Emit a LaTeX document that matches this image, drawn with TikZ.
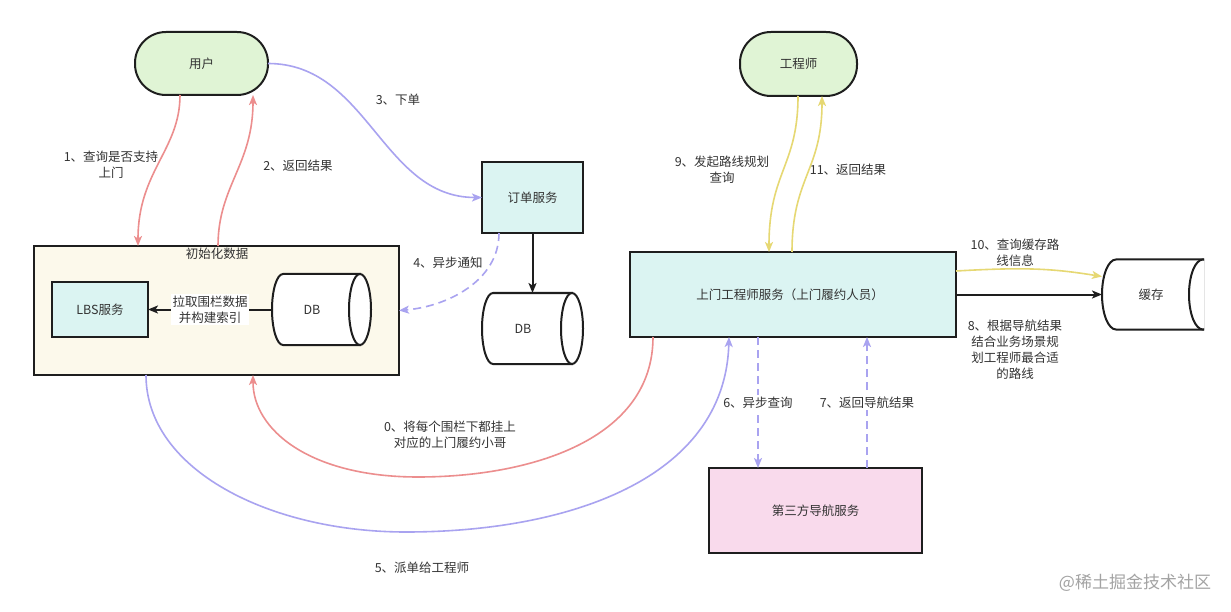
\documentclass[tikz,border=0pt]{standalone}
\usepackage{fontspec}
\setmainfont{Noto Sans CJK SC}
\usetikzlibrary{arrows.meta,calc}
\definecolor{stk}{HTML}{1E1E1E}
\definecolor{txt}{HTML}{333333}
\definecolor{gfill}{HTML}{E0F4D5}
\definecolor{cfill}{HTML}{FCF9EB}
\definecolor{bfill}{HTML}{DBF4F2}
\definecolor{pfill}{HTML}{F9DAEC}
\definecolor{redl}{HTML}{EC8E8E}
\definecolor{bluel}{HTML}{A9A3F0}
\definecolor{yell}{HTML}{E6D873}
\definecolor{wm}{HTML}{A3A3A3}
\newcommand\lblfont{\fontsize{12.5}{16}\selectfont}
\begin{document}
\begin{tikzpicture}[x=1pt,y=-1pt,
  every node/.style={inner sep=0pt, outer sep=0pt, text=txt, font=\lblfont},
  stadium/.style={draw=stk, line width=2pt, fill=gfill, rounded corners=31pt},
  boxnode/.style={draw=stk, line width=2pt, rectangle},
  cylframe/.style={rectangle, draw=none},
  cylline/.style={draw=stk, line width=2pt, fill=white},
  lbl/.style={align=center},
  onlbl/.style={align=center, fill=white, inner sep=1.5pt},
  tip/.style={-{Stealth[length=10pt,width=8pt,inset=2.5pt]}},
  redline/.style={draw=redl, line width=1.6pt, tip, redl},
  blueline/.style={draw=bluel, line width=1.6pt, tip, bluel},
  yelline/.style={draw=yell, line width=1.6pt, tip, yell},
  blkline/.style={draw=stk, line width=2pt, tip, stk},
  dashline/.style={draw=bluel, line width=1.6pt, tip, bluel, dash pattern=on 8pt off 5pt}
]
\useasboundingbox[fill=white] (0,0) rectangle (1231,612);

% ---- nodes ----
\node[stadium, minimum width=133pt, minimum height=63pt] (user) at (201.5,63.5) {用户};
\node[stadium, minimum width=117pt, minimum height=64pt] (eng) at (798.5,64) {工程师};

\node[boxnode, fill=cfill, minimum width=365pt, minimum height=129pt] (init) at (216.5,310.5) {};
\node[lbl] (inittitle) at (217,254) {初始化数据};
\node[boxnode, fill=bfill, minimum width=96pt, minimum height=55pt] (lbs) at (100,309.5) {LBS服务};

\node[cylframe, minimum width=99pt, minimum height=71pt] (db1) at (321.5,309.5) {};
\draw[cylline] ([xshift=-11pt]db1.north east) -- ([xshift=11pt]db1.north west)
  arc[start angle=90, end angle=270, x radius=11pt, y radius=35.5pt]
  -- ([xshift=-11pt]db1.south east) -- cycle;
\draw[cylline] ([xshift=-11pt]db1.east) ellipse[x radius=11pt, y radius=35.5pt];
\node (db1t) at ([xshift=-9.5pt]db1.center) {DB};

\node[boxnode, fill=bfill, minimum width=101pt, minimum height=71pt] (order) at (532.5,197.5) {订单服务};

\node[cylframe, minimum width=101pt, minimum height=71pt] (db2) at (532.5,328.5) {};
\draw[cylline] ([xshift=-11pt]db2.north east) -- ([xshift=11pt]db2.north west)
  arc[start angle=90, end angle=270, x radius=11pt, y radius=35.5pt]
  -- ([xshift=-11pt]db2.south east) -- cycle;
\draw[cylline] ([xshift=-11pt]db2.east) ellipse[x radius=11pt, y radius=35.5pt];
\node (db2t) at ([xshift=-9.5pt]db2.center) {DB};

\node[boxnode, fill=bfill, minimum width=326pt, minimum height=85pt] (svc) at (793,294.5) {};
\node (svct) at ([xshift=-3pt]svc.center) {上门工程师服务（上门履约人员）};

\node[boxnode, fill=pfill, minimum width=213pt, minimum height=85pt] (nav) at (815.5,510.5) {第三方导航服务};

\node[cylframe, minimum width=115pt, minimum height=70pt] (cache) at (1159.5,294.5) {};
\begin{scope}
\clip (1090,240) rectangle (1204,350);
\draw[cylline] ([xshift=-14pt]cache.north east) -- ([xshift=14pt]cache.north west)
  arc[start angle=90, end angle=270, x radius=14pt, y radius=35pt]
  -- ([xshift=-14pt]cache.south east) -- cycle;
\draw[cylline] ([xshift=-14pt]cache.east) ellipse[x radius=14pt, y radius=35pt];
\end{scope}
\node (cachet) at ([xshift=-8.5pt]cache.center) {缓存};

% ---- connectors ----
\draw[redline] ([xshift=-21.5pt]user.south) .. controls +(0,55) and +(0,-75) .. ([xshift=-78.5pt]init.north);
\draw[redline] ([xshift=1.5pt]init.north) .. controls +(0,-60) and +(0,70) .. ([xshift=51.5pt]user.south);
\draw[blueline] (user.east) .. controls +(100,0) and +(-100,0) .. (order.west);
\draw[dashline] ([xshift=-33.5pt]order.south) .. controls +(0,48) and +(48,-4) .. (init.east);
\draw[blkline] (order.south) -- (db2.north);
\draw[blkline] (db1.west) -- node[onlbl] (pull) {拉取围栏数据\\并构建索引} (lbs.east);

\coordinate (b5) at (406,532);
\draw[blueline] ([xshift=-70.5pt]init.south) .. controls +(0,95) and +(-136,0) .. (b5)
  .. controls +(160,0) and +(-4,143) .. ([xshift=-64pt]svc.south);
\coordinate (r0) at (418,477);
\draw[redline] ([xshift=-140pt]svc.south) .. controls +(0,103) and +(112,0) .. (r0)
  .. controls +(-108,0) and +(0,55) .. ([xshift=36.5pt]init.south);

\draw[yelline] ([xshift=-0.5pt]eng.south) .. controls +(0,70) and +(0,-80) .. ([xshift=-24pt]svc.north);
\draw[yelline] ([xshift=-1pt]svc.north) .. controls +(0,-75) and +(0,75) .. ([xshift=23.5pt]eng.south);
\draw[yelline] ([yshift=23.5pt]svc.east) .. controls +(70,-4) and +(-50,-8) .. ([yshift=18pt]cache.west);
\draw[blkline] (svc.east) -- (cache.west);

\draw[dashline] ([xshift=-35pt]svc.south) -- node[onlbl] (l6) {6、异步查询} ([xshift=-57.5pt]nav.north);
\draw[dashline] ([xshift=51.5pt]nav.north) -- node[onlbl] (l7) {7、返回导航结果} ([xshift=74pt]svc.south);

% ---- labels ----
\node[lbl] (l1) at (111,165) {1、查询是否支持\\上门};
\node[lbl] (l2) at (298,166) {2、返回结果};
\node[lbl] (l3) at (398,100) {3、下单};
\node[lbl] (l4) at (448,263) {4、异步通知};
\node[lbl] (l9) at (722,169.5) {9、发起路线规划\\查询};
\node[lbl] (l11) at (848,170) {11、返回结果};
\node[lbl] (l10) at (1015,253) {10、查询缓存路\\线信息};
\node[lbl] (l8) at (1015,350) {8、根据导航结果\\结合业务场景规\\划工程师最合适\\的路线};
\node[lbl] (l0) at (450,434.5) {0、将每个围栏下都挂上\\对应的上门履约小哥};
\node[lbl] (l5) at (422,568) {5、派单给工程师};
\node[text=wm, font=\fontsize{17}{20}\selectfont] (wmk) at (1135,583) {@稀土掘金技术社区};
\end{tikzpicture}
\end{document}
